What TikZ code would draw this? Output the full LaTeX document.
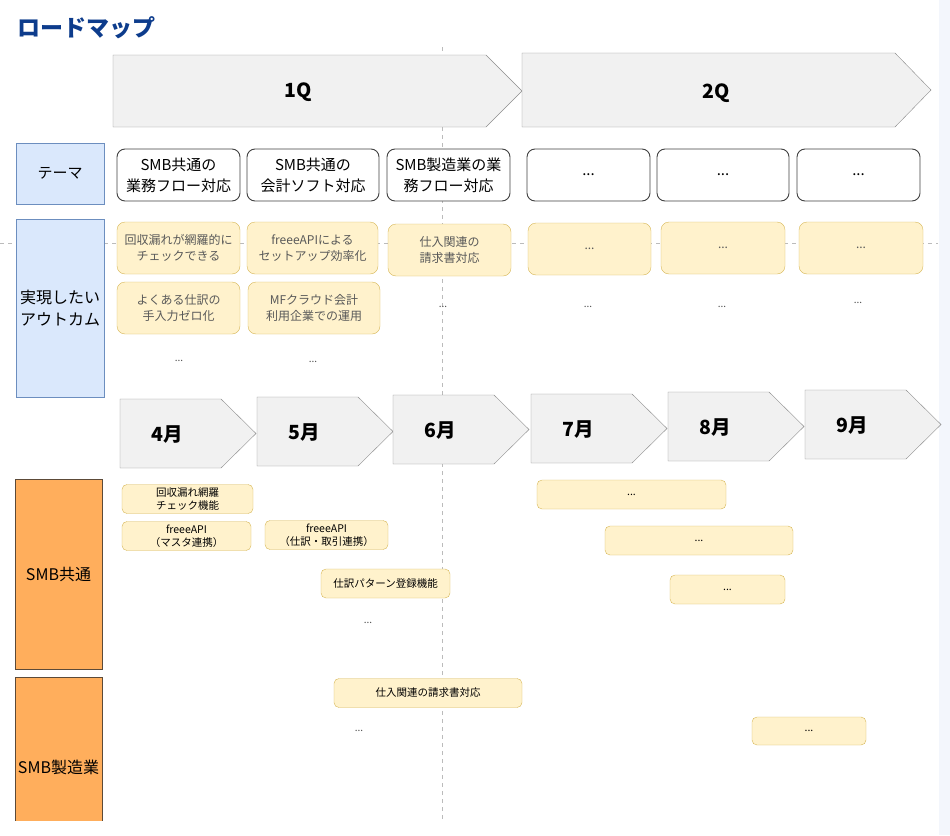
\documentclass[tikz,border=0pt]{standalone}
\usepackage{fontspec}
\setmainfont{Noto Sans CJK JP}
\definecolor{titleblue}{HTML}{0D3C8C}
\definecolor{lanefill}{HTML}{DAE8FC}
\definecolor{laneline}{HTML}{6C8EBF}
\definecolor{notefill}{HTML}{FFF2CC}
\definecolor{noteline}{HTML}{D6B656}
\definecolor{orangefill}{HTML}{FFAE5C}
\definecolor{orangeline}{HTML}{5C4A38}
\definecolor{arrowfill}{HTML}{F1F1F1}
\definecolor{arrowline}{HTML}{8C8C8C}
\definecolor{guide}{HTML}{BBBBBB}
\definecolor{strip}{HTML}{F3F6FC}

\begin{document}
\begin{tikzpicture}[
  x=1pt, y=-1pt,
  lane/.style={draw=laneline, fill=lanefill, minimum width=88, align=center, inner sep=1pt},
  grp/.style={draw=orangeline, fill=orangefill, minimum width=87, align=center, inner sep=1pt,
    font=\fontsize{16}{20}\selectfont},
  theme/.style={draw=black!75, line width=0.9pt, fill=white, rounded corners=8, minimum height=52,
    align=center, inner sep=1pt, font=\fontsize{15}{21}\selectfont},
  goal/.style={draw=noteline, fill=notefill, rounded corners=8, minimum height=52, align=center,
    inner sep=1pt, text=black!65, font=\fontsize{12}{16}\selectfont},
  task/.style={draw=noteline, fill=notefill, rounded corners=5, minimum height=29, align=center,
    inner sep=1pt, font=\fontsize{10.5}{13}\selectfont},
  tbox/.style={draw=arrowline, fill=arrowfill},
  big/.style={font=\fontsize{19.5}{22}\selectfont\bfseries},
  dots/.style={font=\fontsize{10}{12}\selectfont, text=black!70},
]

\useasboundingbox (0,0) rectangle (950,835);
\fill [strip] (939,0) rectangle (950,835);

\draw [guide, dash pattern=on 4pt off 4pt] (442,47) -- (442,820);
\draw [guide, dash pattern=on 4pt off 4pt] (0,243) -- (938,243);

\node [anchor=west, text=titleblue, font=\fontsize{23}{26}\selectfont\bfseries] (title) at (14,28) {ロードマップ};

\draw [tbox] (113,55) -- (486,55) -- (522,91) -- (486,127) -- (113,127) -- cycle;
\node [big] (q1) at (298,92) {1Q};
\draw [tbox] (522,53) -- (895,53) -- (931,90) -- (895,127) -- (522,127) -- cycle;
\node [big] (q2) at (716,93) {2Q};

\node [lane, minimum height=61, font=\fontsize{15}{20}\selectfont] (themelane) at (60,173.5) {テーマ};
\node [theme, minimum width=123] (t1) at (178.5,175) {SMB共通の\\業務フロー対応};
\node [theme, minimum width=132] (t2) at (313,175) {SMB共通の\\会計ソフト対応};
\node [theme, minimum width=123] (t3) at (448.5,175) {SMB製造業の業\\務フロー対応};
\node [theme, minimum width=123] (t4) at (588.5,175) {...};
\node [theme, minimum width=132] (t5) at (723,175) {...};
\node [theme, minimum width=123] (t6) at (858.5,175) {...};

\node [lane, minimum height=178, font=\fontsize{16}{22}\selectfont] (goallane) at (60,308) {実現したい\\アウトカム};
\node [goal, minimum width=123] (g1) at (178.5,248) {回収漏れが網羅的に\\チェックできる};
\node [goal, minimum width=131] (g2) at (312.5,248) {freeeAPIによる\\セットアップ効率化};
\node [goal, minimum width=123] (g3) at (449.5,250) {仕入関連の\\請求書対応};
\node [goal, minimum width=123] (g4) at (589.5,249) {...};
\node [goal, minimum width=124] (g5) at (723,248) {...};
\node [goal, minimum width=124] (g6) at (861,248) {...};
\node [goal, minimum width=123] (g7) at (178.5,308) {よくある仕訳の\\手入力ゼロ化};
\node [goal, minimum width=132] (g8) at (314,308) {MFクラウド会計\\利用企業での運用};
\node [dots] (d1) at (443,307) {...};
\node [dots] (d2) at (588,307) {...};
\node [dots] (d3) at (722,307) {...};
\node [dots] (d4) at (858,303) {...};
\node [dots] (d5) at (179,361) {...};
\node [dots] (d6) at (313,362) {...};

\foreach \mo/\x/\y in {4/120/399, 5/257/397, 6/393/395, 7/531/394, 8/668/392, 9/805/390} {
  \draw [tbox] (\x,\y) -- ++(101,0) -- ++(35,34.5) -- ++(-35,34.5) -- ++(-101,0) -- cycle;
  \node [big] (m\mo) at (\x+47,\y+36) {\mo{}月};
}

\node [grp, minimum height=190] (common) at (58.5,574) {SMB共通};
\node [task, minimum width=131] (k1) at (187.5,499) {回収漏れ網羅\\チェック機能};
\node [task, minimum width=129] (k2) at (186.5,536) {freeeAPI\\（マスタ連携）};
\node [task, minimum width=123] (k3) at (326.5,535) {freeeAPI\\（仕訳・取引連携）};
\node [task, minimum width=129] (k4) at (385.5,583.5) {仕訳パターン登録機能};
\node [dots] (d7) at (368,623) {...};
\node [task, minimum width=189] (k5) at (631.5,494.5) {...};
\node [task, minimum width=188] (k6) at (699,540.5) {...};
\node [task, minimum width=115] (k7) at (727.5,589.5) {...};

\begin{scope}
\clip (0,0) rectangle (950,820);
\node [grp, minimum height=180] (maker) at (58.5,767) {SMB製造業};
\end{scope}
\node [task, minimum width=188] (k8) at (428,693) {仕入関連の請求書対応};
\node [dots] (d8) at (359,731) {...};
\node [task, minimum width=114, minimum height=28] (k9) at (809,731) {...};

\end{tikzpicture}
\end{document}
